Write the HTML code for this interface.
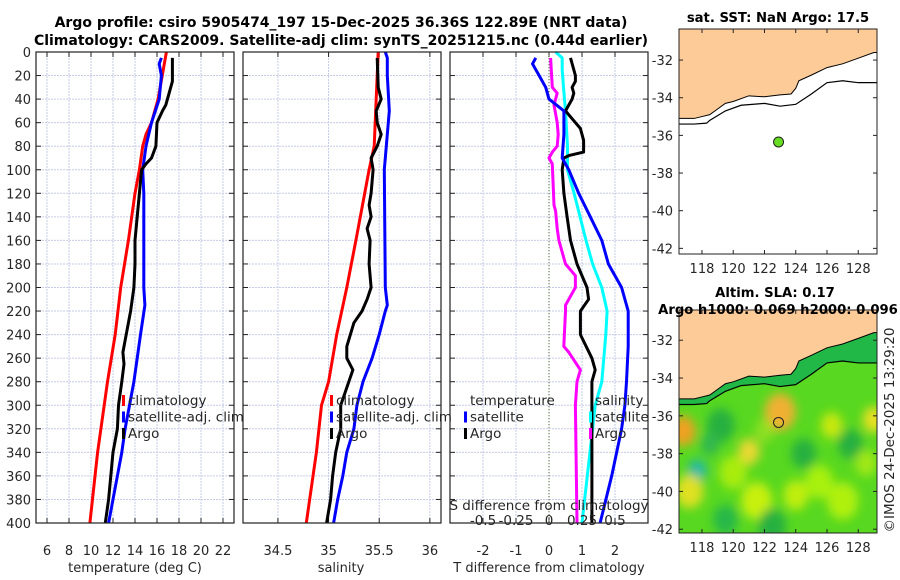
<!DOCTYPE html>
<html><head><meta charset="utf-8">
<style>
body{margin:0;background:#fff;width:900px;height:580px;overflow:hidden;font-family:"Liberation Sans","DejaVu Sans",sans-serif}
svg{display:block}
text{font-family:"DejaVu Sans","Liberation Sans",sans-serif;fill:#262626}
.t{font-weight:bold;font-size:14px;fill:#000}
.mt{font-weight:bold;font-size:13.2px;fill:#000}
.tk{font-size:13px}
.lg{font-size:13.5px}
</style></head>
<body>
<svg id="c" width="900" height="580"></svg>
<script>
// ---- Data ----
const tDepth=[0,40,60,70,80,100,120,160,200,240,280,300,340,400];
const tClim=[16.85,16.1,15.5,15.0,14.7,14.4,14.0,13.4,12.7,12.2,11.5,11.2,10.6,9.9];
const tArgoDepth=[5,25,35,45,50,60,80,90,95,100,120,140,160,180,200,220,240,255,265,280,300,320,340,360,380,400];
const tArgo=[17.4,17.4,17.1,16.8,16.5,16.0,15.9,15.5,15.0,14.6,14.4,14.2,14.0,14.0,13.9,13.6,13.2,12.9,13.0,12.8,12.5,12.4,12.0,11.8,11.6,11.3];
const tSatDepth=[5,10,20,40,60,80,100,120,160,200,215,240,260,280,300,320,340,360,380,400];
const tSat=[16.4,16.2,16.4,16.2,15.5,15.0,14.7,14.8,14.8,14.8,14.9,14.5,14.2,13.9,13.5,13.1,12.8,12.4,12.0,11.6];
const sClimDepth=[0,80,100,160,200,240,280,300,340,400];
const sClim=[35.49,35.45,35.40,35.27,35.18,35.08,35.0,34.93,34.88,34.78];
const sArgoDepth=[5,30,40,50,60,70,80,90,100,120,130,140,150,160,180,190,200,210,220,230,250,260,270,280,300,320,340,360,380,400];
const sArgo=[35.48,35.49,35.52,35.47,35.48,35.52,35.48,35.42,35.44,35.42,35.40,35.42,35.38,35.41,35.40,35.41,35.42,35.38,35.33,35.25,35.18,35.18,35.24,35.20,35.12,35.12,35.07,35.04,35.02,34.98];
const sSatDepth=[0,5,20,50,80,90,100,200,215,220,240,260,280,300,320,340,360,380,400];
const sSat=[35.56,35.58,35.58,35.60,35.57,35.56,35.55,35.56,35.58,35.56,35.50,35.43,35.34,35.28,35.25,35.18,35.14,35.09,35.05];
const dTSatDepth=[5,10,20,30,40,50,70,90,100,120,140,160,180,200,220,250,280,300,320,360,400];
const dTSat=[-0.4,-0.5,-0.3,-0.1,0.0,0.45,0.45,0.4,0.6,0.9,1.25,1.6,1.8,2.2,2.4,2.4,2.35,2.3,2.2,1.9,1.55];
const dTArgoDepth=[5,20,25,30,35,40,50,55,65,75,85,88,90,100,120,140,160,180,200,210,220,240,260,270,280,300,320,360,400];
const dTArgo=[0.65,0.8,0.8,0.7,0.75,0.7,0.5,0.65,0.95,1.05,1.05,0.6,0.45,0.4,0.45,0.55,0.65,0.85,1.15,1.2,0.95,0.95,1.3,1.4,1.3,1.3,1.3,1.3,1.3];
const dSSatDepth=[0,5,15,30,50,80,100,120,160,180,200,220,240,280,300,320,360,400];
const dSSat=[0.05,0.1,0.1,0.11,0.125,0.14,0.14,0.19,0.28,0.33,0.4,0.44,0.43,0.4,0.35,0.33,0.29,0.25];
const dSArgoDepth=[5,30,35,40,45,60,70,80,85,90,95,130,135,150,160,180,190,200,215,220,250,255,270,280,300,400];
const dSArgo=[0.012,0.025,0.062,0.05,0.038,0.062,0.07,0.062,0.025,0,0.025,0.038,0.05,0.062,0.075,0.125,0.2,0.2,0.125,0.125,0.112,0.15,0.238,0.212,0.2,0.212];
const depthTicks=[0,20,40,60,80,100,120,140,160,180,200,220,240,260,280,300,320,340,360,380,400];
const tTicks=[6,8,10,12,14,16,18,20,22];
const sTicks=[34.5,35,35.5,36];
const dTTicks=[-2,-1,0,1,2];
const dSTicks=[-0.5,-0.25,0,0.25,0.5];
const dSTickLabels=["-0.5","-0.25","0","0.25","0.5"];
const lonTicks=[118,120,122,124,126,128];
const latTicks=[-32,-34,-36,-38,-40,-42];
const coast=[[116.5,-35.1],[117.5,-35.1],[118,-35.0],[118.5,-34.9],[119,-34.6],[119.5,-34.3],[120,-34.2],[121,-33.9],[122,-33.95],[123,-33.85],[123.7,-33.8],[124,-33.5],[124.2,-33.1],[125,-32.8],[126,-32.4],[127,-32.2],[128,-31.9],[129,-31.6],[129.2,-31.6]];
const iso=[[116.5,-35.4],[117.5,-35.4],[118.3,-35.35],[118.5,-35.2],[119.5,-34.7],[120.5,-34.4],[122,-34.3],[123,-34.45],[124,-34.35],[125,-33.8],[126,-33.2],[127,-33.1],[128,-33.2],[129.2,-33.2]];
const argoPos=[122.9,-36.35];
// SLA blobs: lon, lat, radius(deg), color
const slaLon=[123,116.8,117.7,121,126.3,129,119.2,124.5,127.5,117.2,121.5,125.5,119.5,122.5,120,127,124,118.5,128.5,122];
const slaLat=[-35.8,-36.8,-38.9,-37.9,-36.5,-36.2,-36.5,-38,-37.5,-40,-40.5,-39.5,-41.5,-41.8,-39,-40.5,-40.2,-37.5,-38.5,-36.8];
const slaR=[1.0,0.8,0.6,0.7,0.7,0.7,0.9,0.8,0.8,0.9,1.0,0.9,0.8,0.9,0.9,1.0,0.8,0.6,0.7,0.6];
const slaCol=["#f0b030","#f0a020","#20b8a8","#e8d830","#c8e810","#e8e020","#28b040","#28b040","#28b040","#e0e020","#c8f010","#a8f010","#28b848","#28b040","#a8ec10","#b0f010","#c0ee10","#30b850","#a0e818","#90e020"];

// ---- Helpers ----
const NS="http://www.w3.org/2000/svg";
const svg=document.getElementById('c');
function el(tag,attrs,parent){const e=document.createElementNS(NS,tag);for(const k in attrs)e.setAttribute(k,attrs[k]);(parent||svg).appendChild(e);return e;}
function txt(x,y,s,cls,anchor,parent){const t=el('text',{x:x,y:y,'text-anchor':anchor||'middle','class':cls||'tk'},parent);t.textContent=s;return t;}

const Y0=52,Y1=523;
const yD=d=>Y0+(d/400)*(Y1-Y0);
function panel(x0,x1,vmin,vmax,name){
  const sx=v=>x0+(v-vmin)/(vmax-vmin)*(x1-x0);
  const g=el('g',{});
  
  
  return {sx,g,x0,x1};
}
function grid(p,xt){
  depthTicks.forEach(d=>{if(d>0&&d<400){const l=el('line',{x1:p.x0,x2:p.x1,y1:yD(d),y2:yD(d),stroke:'#c6cbe6','stroke-width':1,'stroke-dasharray':'2,1'},p.g);}
    el('line',{x1:p.x0,x2:p.x0+5,y1:yD(d),y2:yD(d),stroke:'#222'},p.g);el('line',{x1:p.x1-5,x2:p.x1,y1:yD(d),y2:yD(d),stroke:'#222'},p.g);});
  xt.forEach(v=>{const x=p.sx(v);el('line',{x1:x,x2:x,y1:Y0,y2:Y1,stroke:'#c6cbe6','stroke-dasharray':'2,1'},p.g);
    el('line',{x1:x,x2:x,y1:Y1-5,y2:Y1,stroke:'#222'},p.g);el('line',{x1:x,x2:x,y1:Y0,y2:Y0+5,stroke:'#222'},p.g);});
}
function box(p){const r=el('rect',{x:p.x0,y:Y0,width:p.x1-p.x0,height:Y1-Y0,fill:'none',stroke:'#222','stroke-width':1.2},p.g);}
function line(p,depths,vals,col,name,sx){
  const f=sx||p.sx;
  const pts=depths.map((d,i)=>f(vals[i]).toFixed(1)+','+yD(d).toFixed(1)).join(' ');
  const l=el('polyline',{points:pts,fill:'none',stroke:col,'stroke-width':3,'stroke-linejoin':'round'},p.g);
  
  
}
function legend(x,y,items,parent,name){
  const g=el('g',{},parent);
  items.forEach((it,i)=>{const yy=y+i*16.5;
    if(it[1])el('rect',{x:x,y:yy-10,width:3,height:11,fill:it[1]},g);
    txt(x+6,yy,it[0],'lg','start',g);});
}

// Titles
const t1=txt(341,27,'Argo profile: csiro 5905474_197 15-Dec-2025 36.36S 122.89E (NRT data)','t');

const t2=txt(341,45,'Climatology: CARS2009. Satellite-adj clim: synTS_20251215.nc (0.44d earlier)','t');


// Panel 1 temperature
const p1=panel(36,234,5,23,'temperature-panel');
grid(p1,tTicks);
line(p1,tDepth,tClim,'#ff0000','temp-climatology-line');
line(p1,tSatDepth,tSat,'#0000ff','temp-satellite-line');
line(p1,tArgoDepth,tArgo,'#000000','temp-argo-line');
box(p1);
depthTicks.forEach(d=>txt(31,yD(d)+5,String(d),'tk','end'));
tTicks.forEach(v=>txt(p1.sx(v),555,String(v)));
txt(135,572,'temperature (deg C)');
legend(122,405,[['climatology','#ff0000'],['satellite-adj. clim','#0000ff'],['Argo','#000']],p1.g,'temperature-legend');

// Panel 2 salinity
const p2=panel(243,441,34.155,36.11,'salinity-panel');
grid(p2,sTicks);
line(p2,sClimDepth,sClim,'#ff0000','sal-climatology-line');
line(p2,sSatDepth,sSat,'#0000ff','sal-satellite-line');
line(p2,sArgoDepth,sArgo,'#000000','sal-argo-line');
box(p2);
sTicks.forEach(v=>txt(p2.sx(v),555,String(v)));
txt(341,572,'salinity');
legend(330,405,[['climatology','#ff0000'],['satellite-adj. clim','#0000ff'],['Argo','#000']],p2.g,'salinity-legend');

// Panel 3 differences
const p3=panel(450,648,-3,3,'difference-panel');
const sxS=v=>p3.sx(v*4);
grid(p3,dTTicks);
el('line',{x1:p3.sx(0),x2:p3.sx(0),y1:Y0,y2:Y1,stroke:'#556b2f','stroke-dasharray':'1,2'},p3.g);
line(p3,dSArgoDepth,dSArgo,'#ff00ff','sal-argo-diff-line',sxS);
line(p3,dSSatDepth,dSSat,'#00ffff','sal-satellite-diff-line',sxS);
line(p3,dTArgoDepth,dTArgo,'#000000','temp-argo-diff-line');
line(p3,dTSatDepth,dTSat,'#0000ff','temp-satellite-diff-line');
box(p3);
dTTicks.forEach(v=>txt(p3.sx(v),555,String(v)));
txt(549,572,'T difference from climatology');
txt(549,510,'S difference from climatology','lg');
dSTicks.forEach((v,i)=>txt(sxS(v),525,dSTickLabels[i],'lg'));
legend(464,405,[['temperature',null],['satellite','#0000ff'],['Argo','#000']],p3.g,'temp-diff-legend');
legend(589,405,[['salinity',null],['satellite','#00ffff'],['Argo','#ff00ff']],p3.g,'sal-diff-legend');

// Maps
function map(top,bottom,latTop,latBot,name,withSla){
  const x0=679,x1=877,lon0=116.53,lon1=129.2;
  const mx=l=>x0+(l-lon0)/(lon1-lon0)*(x1-x0);
  const my=l=>top+(latTop-l)/(latTop-latBot)*(bottom-top);
  const g=el('g',{});
  const cid='clip'+name;
  const cp=el('clipPath',{id:cid},g);el('rect',{x:x0,y:top,width:x1-x0,height:bottom-top},cp);
  const inner=el('g',{'clip-path':'url(#'+cid+')'},g);
  el('rect',{x:x0,y:top,width:x1-x0,height:bottom-top,fill:withSla?'#58d820':'#fff'},inner);
  if(withSla){
    const fid='blur'+name;const f=el('filter',{id:fid,x:'-50%',y:'-50%',width:'200%',height:'200%'},g);el('feGaussianBlur',{stdDeviation:5},f);
    const bg=el('g',{filter:'url(#'+fid+')'},inner);
    slaLon.forEach((lo,i)=>{const c=el('ellipse',{cx:mx(lo),cy:my(slaLat[i]),rx:slaR[i]*15.6,ry:slaR[i]*18.8,fill:slaCol[i],opacity:1},bg);
      
      });
    const shelf=coast.map(p=>mx(p[0])+','+my(p[1])).join(' ')+' '+iso.slice().reverse().map(p=>mx(p[0])+','+my(p[1])).join(' ');
    el('polygon',{points:shelf,fill:'#22b848'},inner);
  }
  const land=coast.map(p=>mx(p[0])+','+my(p[1])).join(' ')+` ${x1+5},${top-5} ${x0-5},${top-5}`;
  const lp=el('polygon',{points:land,fill:'#fccb98'},inner);
  el('polyline',{points:coast.map(p=>mx(p[0])+','+my(p[1])).join(' '),fill:'none',stroke:'#000','stroke-width':1},inner);
  el('polyline',{points:iso.map(p=>mx(p[0])+','+my(p[1])).join(' '),fill:'none',stroke:'#000','stroke-width':1.2},inner);
  const dot=el('circle',{cx:mx(argoPos[0]),cy:my(argoPos[1]),r:5,fill:withSla?'none':'#66dd22',stroke:'#222','stroke-width':1},g);
  
  el('rect',{x:x0,y:top,width:x1-x0,height:bottom-top,fill:'none',stroke:'#222'},g);
  lonTicks.forEach(l=>{el('line',{x1:mx(l),x2:mx(l),y1:bottom,y2:bottom-4,stroke:'#222'},g);el('line',{x1:mx(l),x2:mx(l),y1:top,y2:top+4,stroke:'#222'},g);txt(mx(l),bottom+19,String(l),'tk','middle',g);});
  latTicks.forEach(l=>{el('line',{x1:x0,x2:x0+4,y1:my(l),y2:my(l),stroke:'#222'},g);el('line',{x1:x1,x2:x1-4,y1:my(l),y2:my(l),stroke:'#222'},g);txt(x0-6,my(l)+5,String(l),'tk','end',g);});
}
map(29,254,-30.35,-42.3,'sst-map',false);
map(310,533,-30.4,-42.2,'sla-map',true);
const m1=txt(778,22,'sat. SST: NaN Argo: 17.5','mt');
const m2=txt(775,297,'Altim. SLA: 0.17','mt');
const m3=txt(778,314,'Argo h1000: 0.069 h2000: 0.096','mt');
const cr=txt(0,0,'©IMOS 24-Dec-2025 13:29:20','lg','middle');
cr.setAttribute('transform','translate(894,430) rotate(-90)');

</script>
</body></html>
